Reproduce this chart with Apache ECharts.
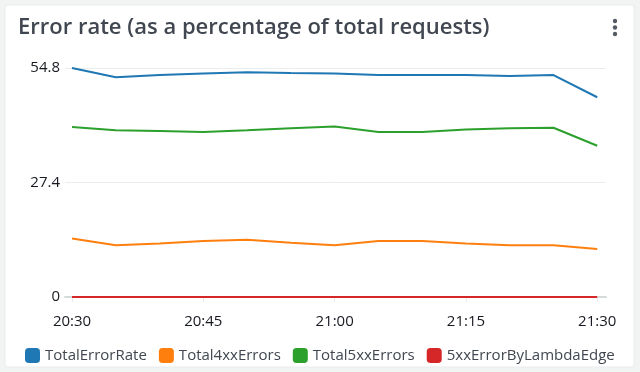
<!DOCTYPE html>
<html>
<head>
<meta charset="utf-8">
<script src="https://cdn.jsdelivr.net/npm/echarts@6/dist/echarts.min.js"></script>
<style>
html,body{margin:0;padding:0;background:#f2f3f3;}
#c{width:640px;height:372px;}
</style>
</head>
<body>
<div id="c"></div>
<script>
const times = ["20:30","20:35","20:40","20:45","20:50","20:55","21:00","21:05","21:10","21:15","21:20","21:25","21:30"];
const totalErrorRate = [54.8,52.6,53.1,53.5,53.8,53.6,53.5,53.1,53.1,53.1,52.9,53.1,47.8];
const total4xxErrors = [14.0,12.4,12.8,13.4,13.7,13.0,12.4,13.4,13.4,12.8,12.4,12.4,11.5];
const total5xxErrors = [40.7,39.9,39.7,39.5,39.9,40.4,40.8,39.5,39.5,40.1,40.4,40.5,36.2];
const lambdaEdge5xx = [0,0,0,0,0,0,0,0,0,0,0,0,0];
const xTickLabels = ["20:30","20:45","21:00","21:15","21:30"];
const yTicks = [0,27.4,54.8];
const seriesNames = ["TotalErrorRate","Total4xxErrors","Total5xxErrors","5xxErrorByLambdaEdge"];
const colors = ["#1f77b4","#ff7f0e","#2ca02c","#d62728"];

const toMin = t => { const [h,m] = t.split(":").map(Number); return (h*60+m) - (20*60+30); };
const fromMin = v => { const tot = 20*60+30+Math.round(v); const h = Math.floor(tot/60), m = tot%60; return h+":"+String(m).padStart(2,"0"); };
const pts = arr => arr.map((v,i)=>[toMin(times[i]), v]);

const chart = echarts.init(document.getElementById('c'), null, {renderer:'canvas'});
const fam = '"Open Sans", Roboto, sans-serif';
const seriesData = [totalErrorRate,total4xxErrors,total5xxErrors,lambdaEdge5xx];
chart.setOption({
  animation:false,
  textStyle:{fontFamily:fam},
  color:colors,
  graphic:[
    {type:'rect', z:-10, shape:{x:5,y:5,width:629,height:362,r:3}, style:{fill:'#ffffff', stroke:'#e9ebed', lineWidth:1}},
    {type:'text', left:18, top:17, style:{text:'Error rate (as a percentage of total requests)', font:'600 22px '+fam, fill:'#414750'}},
    {type:'circle', shape:{cx:615,cy:21,r:2.2}, style:{fill:'#545b64'}},
    {type:'circle', shape:{cx:615,cy:27.5,r:2.2}, style:{fill:'#545b64'}},
    {type:'circle', shape:{cx:615,cy:34,r:2.2}, style:{fill:'#545b64'}}
  ],
  grid:{left:65,right:34,top:68,bottom:75,containLabel:false},
  legend:{
    left:20, top:343, itemWidth:15, itemHeight:15, itemGap:12,
    icon:'roundRect',
    textStyle:{fontSize:15, color:'#414750', fontFamily:fam, padding:[0,0,0,0]},
    data:seriesNames
  },
  xAxis:{
    type:'value', min:-0.8, max:61.0,
    axisLine:{show:true, lineStyle:{color:'#d5dbdb', width:2}},
    axisTick:{show:true, customValues:xTickLabels.map(toMin), length:5, lineStyle:{color:'#e9ebed'}},
    axisLabel:{customValues:xTickLabels.map(toMin), formatter:v=>fromMin(v), fontSize:15, color:'#16191f', margin:17},
    splitLine:{show:false}
  },
  yAxis:{
    type:'value', min:0, max:54.8, interval:27.4,
    axisLine:{show:false}, axisTick:{show:false},
    axisLabel:{fontSize:15, color:'#16191f', margin:5, formatter:v=>String(v)},
    splitLine:{lineStyle:{color:'#eaeded', width:1}}
  },
  series: seriesNames.map((n,i)=>({
    name:n, type:'line', data:pts(seriesData[i]), showSymbol:false, symbol:'none',
    lineStyle:{width:2, color:colors[i]}, itemStyle:{color:colors[i]}, z: 2+i
  }))
});
</script>
</body>
</html>
